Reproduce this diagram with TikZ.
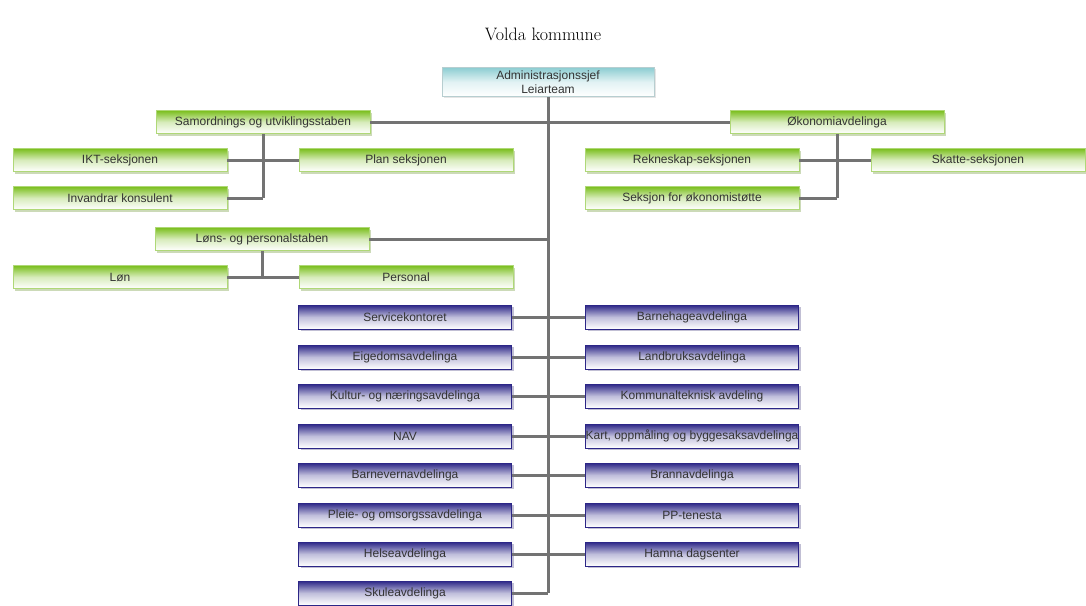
\documentclass[tikz,border=0pt]{standalone}
\usepackage{fontspec}
\setsansfont{Liberation Sans}
\usetikzlibrary{shadows}

\definecolor{orggreen}{RGB}{122,190,28}
\definecolor{orgblue}{RGB}{44,38,135}
\definecolor{orgcyan}{RGB}{140,205,210}
\definecolor{linegray}{RGB}{115,115,115}

\begin{document}
\begin{tikzpicture}[x=1pt,y=-1pt,
					box/.style={rectangle,inner sep=0pt,line width=0.8pt,
						font=\sffamily\fontsize{12}{14}\selectfont,text=black!80},
					top node/.style={box,minimum width=212pt,minimum height=29pt,
						align=center,draw=orgcyan!60!gray!60,
						top color=orgcyan,bottom color=white,middle color=orgcyan!25!white,
						drop shadow={shadow xshift=1.5pt,shadow yshift=-1.5pt,fill=gray!40}},
					green node/.style={box,minimum width=214pt,minimum height=23pt,
						draw=orggreen!60,
						top color=orggreen,bottom color=white,middle color=orggreen!30!white,
						drop shadow={shadow xshift=2pt,shadow yshift=-2pt,fill=orggreen!70!black!60}},
					blue node/.style={box,minimum width=213pt,minimum height=24pt,
						draw=orgblue,
						top color=orgblue,bottom color=white,middle color=orgblue!30!white,
						drop shadow={shadow xshift=2pt,shadow yshift=-2pt,fill=orgblue!60!gray!70}},
					link/.style={draw=linegray,line width=3pt}]

  \useasboundingbox (0,0) rectangle (1086,605);

  \node (title) at (543,34) {\fontsize{18}{21}\selectfont Volda kommune};

  \node[top node] (adm) at (548,82) {Administrasjonssjef\\Leiarteam};

  % staber
  \node[green node] (samord) at (263,122) {Samordnings og utviklingsstaben};
  \node[green node] (ikt) at (120,160) {IKT-seksjonen};
  \node[green node] (plan) at (406,160) {Plan seksjonen};
  \node[green node] (invandrar) at (120,198) {Invandrar konsulent};

  \node[green node] (okonomi) at (837,122) {Økonomiavdelinga};
  \node[green node] (rekneskap) at (692,160) {Rekneskap-seksjonen};
  \node[green node] (skatte) at (978,160) {Skatte-seksjonen};
  \node[green node] (okstotte) at (692,198) {Seksjon for økonomistøtte};

  \node[green node] (lons) at (262,239) {Løns- og personalstaben};
  \node[green node] (lon) at (120,277) {Løn};
  \node[green node] (personal) at (406,277) {Personal};

  % avdelingar
  \node[blue node] (service) at (405,317) {Servicekontoret};
  \node[blue node] (eigedom) at (405,357) {Eigedomsavdelinga};
  \node[blue node] (kultur) at (405,396) {Kultur- og næringsavdelinga};
  \node[blue node] (nav) at (405,436) {NAV};
  \node[blue node] (barnevern) at (405,475) {Barnevernavdelinga};
  \node[blue node] (pleie) at (405,515) {Pleie- og omsorgssavdelinga};
  \node[blue node] (helse) at (405,554) {Helseavdelinga};
  \node[blue node] (skule) at (405,593) {Skuleavdelinga};

  \node[blue node] (barnehage) at (692,317) {Barnehageavdelinga};
  \node[blue node] (landbruk) at (692,357) {Landbruksavdelinga};
  \node[blue node] (kommunal) at (692,396) {Kommunalteknisk avdeling};
  \node[blue node] (kart) at (692,436) {Kart, oppmåling og byggesaksavdelinga};
  \node[blue node] (brann) at (692,475) {Brannavdelinga};
  \node[blue node] (pp) at (692,515) {PP-tenesta};
  \node[blue node] (hamna) at (692,554) {Hamna dagsenter};

  \coordinate (trunkend) at (adm.south |- skule);

  \path[link]
    (adm.south) edge (trunkend)
    (samord.east) edge (samord -| adm.south)
    (okonomi.west) edge (okonomi -| adm.south)
    (lons.east) edge (lons -| adm.south)
    (samord.south) edge (samord.south |- invandrar)
    (invandrar.east) edge (samord.south |- invandrar)
    (ikt.east) edge (plan.west)
    (okonomi.south) edge (okonomi.south |- okstotte)
    (okstotte.east) edge (okonomi.south |- okstotte)
    (rekneskap.east) edge (skatte.west)
    (lons.south) edge (lons.south |- lon)
    (lon.east) edge (personal.west)
    (service.east) edge (barnehage.west)
    (eigedom.east) edge (landbruk.west)
    (kultur.east) edge (kommunal.west)
    (nav.east) edge (kart.west)
    (barnevern.east) edge (brann.west)
    (pleie.east) edge (pp.west)
    (helse.east) edge (hamna.west)
    (skule.east) edge (trunkend);
\end{tikzpicture}
\end{document}
